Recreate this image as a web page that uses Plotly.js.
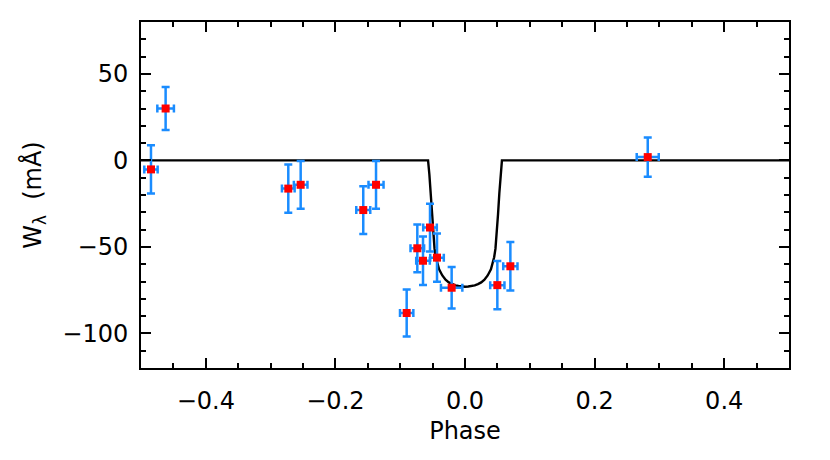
<!DOCTYPE html>
<html>
<head>
<meta charset="utf-8">
<script src="https://cdn.plot.ly/plotly-3.0.1.min.js"></script>
<style>html,body{margin:0;padding:0;background:#fff}#chart{width:830px;height:460px}</style>
</head>
<body>
<div id="chart"></div>
<script>
// Observed points
var phase = [-0.4846, -0.462, -0.2727, -0.2536, -0.157, -0.1373, -0.090, -0.0736, -0.0648, -0.054, -0.0432, -0.0206, 0.0499, 0.070, 0.282];
var wlam  = [-5.2, 30.0, -16.3, -14.1, -28.7, -14.1, -88.2, -50.8, -58.0, -38.8, -56.2, -73.6, -72.1, -61.2, 1.9];
var wErr  = [14, 12.4, 14, 13.8, 13.8, 13.8, 13.6, 13.8, 14, 13.8, 14, 12, 14, 14, 11.4];
var phErr = [0.0103, 0.0128, 0.0098, 0.0105, 0.0108, 0.0116, 0.0103, 0.0105, 0.0105, 0.0105, 0.0105, 0.0165, 0.011, 0.011, 0.017];

// Model curve
var modelPhase = [-0.5, -0.057, -0.055, -0.053, -0.051, -0.049, -0.047, -0.045, -0.043, -0.040, -0.035, -0.030, -0.025, -0.020, -0.015, -0.010, -0.005, 0.0,
                  0.005, 0.010, 0.015, 0.020, 0.025, 0.030, 0.035, 0.040, 0.043, 0.045, 0.047, 0.049, 0.051, 0.053, 0.055, 0.057, 0.5];
var modelW = [0, 0, -8, -19, -31, -43, -51, -56, -59.5, -63, -66.5, -69, -70.5, -71.5, -72.2, -72.6, -72.9, -73,
              -72.9, -72.6, -72.2, -71.5, -70.5, -69, -66.5, -63, -59.5, -56, -51, -43, -31, -19, -8, 0, 0];

var xTicks = [-0.4, -0.2, 0.0, 0.2, 0.4];
var xTickText = ['\u22120.4', '\u22120.2', '0.0', '0.2', '0.4'];
var yTicks = [-100, -50, 0, 50];
var yTickText = ['\u2212100', '\u221250', '0', '50'];

var font = {family: 'DejaVu Sans, sans-serif', size: 24, color: '#000'};

var traces = [
  {x: modelPhase, y: modelW, mode: 'lines', line: {color: '#000', width: 2.4}, hoverinfo: 'skip'},
  {x: phase, y: wlam, mode: 'markers', type: 'scatter',
   marker: {symbol: 'square', size: 8, color: '#ff0000'},
   error_y: {type: 'data', array: wErr, visible: true, color: '#1a8cff', thickness: 2.5, width: 4},
   error_x: {type: 'data', array: phErr, visible: true, color: '#1a8cff', thickness: 2.5, width: 4}}
];

var layout = {
  width: 830, height: 460,
  margin: {l: 141, r: 41, t: 22, b: 92},
  showlegend: false,
  paper_bgcolor: '#fff', plot_bgcolor: '#fff',
  font: font,
  xaxis: {
    range: [-0.5, 0.5], tickvals: xTicks, ticktext: xTickText,
    ticks: 'inside', ticklen: 10, tickwidth: 2, tickcolor: '#000',
    showline: true, linecolor: '#000', linewidth: 2, mirror: 'allticks',
    showgrid: false, zeroline: false, ticklabelstandoff: 10,
    minor: {dtick: 0.05, tick0: 0, ticks: 'inside', ticklen: 5, tickwidth: 2, tickcolor: '#000', showgrid: false},
    tickfont: font,
    title: {text: 'Phase', font: font, standoff: 8}
  },
  yaxis: {
    range: [-120, 80], tickvals: yTicks, ticktext: yTickText,
    ticks: 'inside', ticklen: 10, tickwidth: 2, tickcolor: '#000',
    showline: true, linecolor: '#000', linewidth: 2, mirror: 'allticks',
    showgrid: false, zeroline: false, ticklabelstandoff: 6,
    minor: {dtick: 10, tick0: 0, ticks: 'inside', ticklen: 5, tickwidth: 2, tickcolor: '#000', showgrid: false},
    tickfont: font,
    title: {text: 'W<sub>\u03bb</sub>  (mÅ)', font: font, standoff: 14}
  }
};

Plotly.newPlot('chart', traces, layout, {displayModeBar: false, staticPlot: true});
</script>
</body>
</html>
